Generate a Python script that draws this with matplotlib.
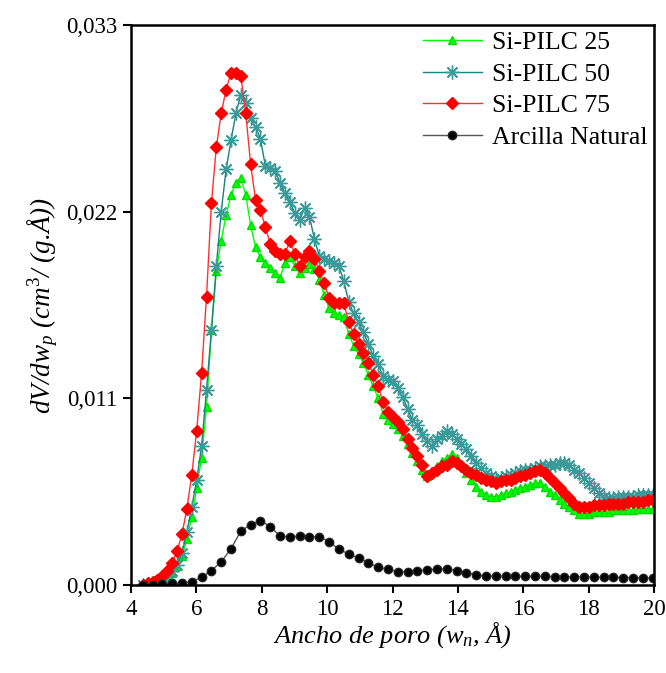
import numpy as np
import matplotlib
matplotlib.use("Agg")
import matplotlib.pyplot as plt
from matplotlib.ticker import FuncFormatter

plt.rcParams['font.family'] = ['Liberation Serif', 'DejaVu Serif']
plt.rcParams['mathtext.fontset'] = 'custom'
plt.rcParams['mathtext.rm'] = 'Liberation Serif'
plt.rcParams['mathtext.it'] = 'Liberation Serif:italic'

# pore width (angstrom)
w = [4.36, 4.51, 4.66, 4.81, 4.96, 5.11, 5.26, 5.41, 5.56, 5.71, 5.86, 6.01, 6.16, 6.31, 6.46,
     6.61, 6.76, 6.91, 7.06, 7.21, 7.36, 7.51, 7.66, 7.81, 7.96, 8.11, 8.26, 8.41, 8.56, 8.71,
     8.86, 9.01, 9.16, 9.31, 9.46, 9.61, 9.76, 9.91, 10.06, 10.21, 10.36, 10.51, 10.66, 10.81, 10.96,
     11.11, 11.26, 11.41, 11.56, 11.71, 11.86, 12.01, 12.16, 12.31, 12.46, 12.61, 12.76, 12.91, 13.06, 13.21,
     13.36, 13.51, 13.66, 13.81, 13.96, 14.11, 14.26, 14.41, 14.56, 14.71, 14.86, 15.01, 15.16, 15.31, 15.46,
     15.61, 15.76, 15.91, 16.06, 16.21, 16.36, 16.51, 16.66, 16.81, 16.96, 17.11, 17.26, 17.41, 17.56, 17.71,
     17.86, 18.01, 18.16, 18.31, 18.46, 18.61, 18.76, 18.91, 19.06, 19.21, 19.36, 19.51, 19.66, 19.81, 19.96]

pilc25 = [0.0, 0.00005, 0.0001, 0.0002, 0.0003, 0.0005, 0.0007, 0.0011, 0.0017, 0.0027, 0.0040, 0.0057, 0.0075, 0.0105, 0.0150,
          0.0185, 0.0203, 0.0218, 0.0230, 0.0237, 0.0240, 0.0230, 0.0212, 0.0199, 0.0193, 0.0190, 0.0187, 0.0184, 0.0181, 0.0190,
          0.0193, 0.0188, 0.0184, 0.0187, 0.0189, 0.0186, 0.0180, 0.0171, 0.0163, 0.0160, 0.0159, 0.0158, 0.0148, 0.0141, 0.0136,
          0.0131, 0.0124, 0.0117, 0.0110, 0.0101, 0.0097, 0.0095, 0.0092, 0.0088, 0.0083, 0.0078, 0.0073, 0.0068, 0.0064, 0.0067,
          0.0070, 0.0073, 0.0075, 0.0077, 0.0075, 0.0071, 0.0066, 0.0062, 0.0058, 0.0055, 0.0053, 0.0052, 0.0052, 0.0053, 0.0054,
          0.0055, 0.0056, 0.0057, 0.0058, 0.0059, 0.0060, 0.0060, 0.0058, 0.0055, 0.0053, 0.0050, 0.0048, 0.0046, 0.0044, 0.0042,
          0.0042, 0.0042, 0.0043, 0.0043, 0.0043, 0.0043, 0.0044, 0.0044, 0.0044, 0.0044, 0.0044, 0.0045, 0.0045, 0.0045, 0.0045]

pilc50 = [0.0, 0.00005, 0.0001, 0.0002, 0.0003, 0.0005, 0.0008, 0.0012, 0.0019, 0.0031, 0.0046, 0.0062, 0.0082, 0.0115, 0.0150,
          0.0188, 0.0220, 0.0245, 0.0262, 0.0278, 0.0289, 0.0284, 0.0275, 0.0270, 0.0263, 0.0247, 0.0246, 0.0244, 0.0237, 0.0231,
          0.0226, 0.0219, 0.0215, 0.0222, 0.0217, 0.0204, 0.0194, 0.0192, 0.0191, 0.0190, 0.0188, 0.0179, 0.0167, 0.0160, 0.0155,
          0.0149, 0.0142, 0.0135, 0.0130, 0.0123, 0.0121, 0.0120, 0.0116, 0.0111, 0.0104, 0.0097, 0.0094, 0.0089, 0.0085, 0.0082,
          0.0086, 0.0088, 0.0091, 0.0089, 0.0086, 0.0083, 0.0080, 0.0076, 0.0072, 0.0069, 0.0066, 0.0064, 0.0062, 0.0063, 0.0064,
          0.0065, 0.0066, 0.0067, 0.0068, 0.0068, 0.0069, 0.0070, 0.0070, 0.0071, 0.0071, 0.0072, 0.0072, 0.0071, 0.0068, 0.0066,
          0.0063, 0.0060, 0.0057, 0.0054, 0.0052, 0.0051, 0.0051, 0.0052, 0.0052, 0.0052, 0.0052, 0.0053, 0.0053, 0.0053, 0.0053]

pilc75 = [0.0, 0.0001, 0.00015, 0.0003, 0.0005, 0.0008, 0.0013, 0.0020, 0.0030, 0.0045, 0.0065, 0.0091, 0.0125, 0.0170, 0.0225,
          0.0258, 0.0278, 0.0292, 0.0302, 0.0302, 0.0300, 0.0278, 0.0248, 0.0227, 0.0221, 0.0211, 0.0201, 0.0197, 0.0195, 0.0195,
          0.0203, 0.0195, 0.0188, 0.0193, 0.0197, 0.0192, 0.0185, 0.0178, 0.0169, 0.0166, 0.0166, 0.0166, 0.0155, 0.0148, 0.0142,
          0.0137, 0.0131, 0.0124, 0.0117, 0.0108, 0.0102, 0.0099, 0.0096, 0.0092, 0.0086, 0.0081, 0.0076, 0.0071, 0.0064, 0.0066,
          0.0068, 0.0070, 0.0071, 0.0073, 0.0072, 0.0070, 0.0068, 0.0066, 0.0065, 0.0063, 0.0062, 0.0061, 0.0060, 0.0061, 0.0062,
          0.0062, 0.0063, 0.0064, 0.0065, 0.0066, 0.0067, 0.0068, 0.0066, 0.0063, 0.0060, 0.0057, 0.0054, 0.0051, 0.0048, 0.0046,
          0.0046, 0.0046, 0.0047, 0.0047, 0.0047, 0.0048, 0.0048, 0.0048, 0.0048, 0.0049, 0.0049, 0.0049, 0.0049, 0.0050, 0.0050]

# natural clay, measured every 0.3 A (every other point of w)
w_nat = w[::2]
natural = [0.0, 0.0, 0.00005, 0.0001, 0.0001, 0.0002, 0.00045, 0.00085, 0.00136, 0.00214, 0.00317, 0.00356, 0.00379, 0.00344,
           0.00289, 0.00282, 0.00289, 0.00285, 0.00285, 0.00256, 0.0021, 0.00183, 0.00159, 0.00132, 0.00104, 0.00093, 0.00079,
           0.00079, 0.00085, 0.00089, 0.00093, 0.00093, 0.00085, 0.00073, 0.00059, 0.00053, 0.00052, 0.00052, 0.00051, 0.00051,
           0.0005, 0.0005, 0.00049, 0.00048, 0.00048, 0.00047, 0.00046, 0.00046, 0.00045, 0.00044, 0.00043, 0.00042, 0.00041]

xticks = [4, 6, 8, 10, 12, 14, 16, 18, 20]
yticks = [0.0, 0.011, 0.022, 0.033]

fig = plt.figure(figsize=(6.66, 6.73), dpi=100)
ax = fig.add_axes([0.1967, 0.1308, 0.7853, 0.832])

ax.plot(w, pilc25, color='#00ff00', lw=1, marker='^', ms=6, mfc='#00ff00', mec='#00dd00',
        label='Si-PILC 25')
ax.plot(w, pilc50, color='#1a8080', lw=1, marker=(8, 2, 0), ms=10, mec='#3a9a9a', mew=1,
        label='Si-PILC 50')
ax.plot(w, pilc75, color='#ff3030', lw=1, marker='D', ms=6.5, mfc='red', mec='red',
        label='Si-PILC 75')
ax.plot(w_nat, natural, color='#555555', lw=1, marker='o', ms=6, mfc='black', mec='#222222',
        label='Arcilla Natural')

ax.set_xlim(4, 20)
ax.set_ylim(0, 0.033)
ax.set_xticks(xticks)
ax.set_yticks(yticks)
ax.yaxis.set_major_formatter(FuncFormatter(lambda v, p: f'{v:.3f}'.replace('.', ',')))
ax.tick_params(direction='out', length=6, width=1.5, labelsize=16.5, pad=4)
for s in ax.spines.values():
    s.set_linewidth(1.8)

ax.set_xlabel('Ancho de poro ($w_n$, Å)', fontsize=19, style='italic', labelpad=0)
ax.set_ylabel('dV/dw$_p$ (cm$^3$/ (g.Å))', fontsize=19.5, style='italic', labelpad=4)

ax.legend(loc='upper right', frameon=False, fontsize=18.5, handlelength=2.3,
          labelspacing=0.33, borderaxespad=0.05, handletextpad=0.4, borderpad=0.2)

fig.savefig('out.png', dpi=100)
